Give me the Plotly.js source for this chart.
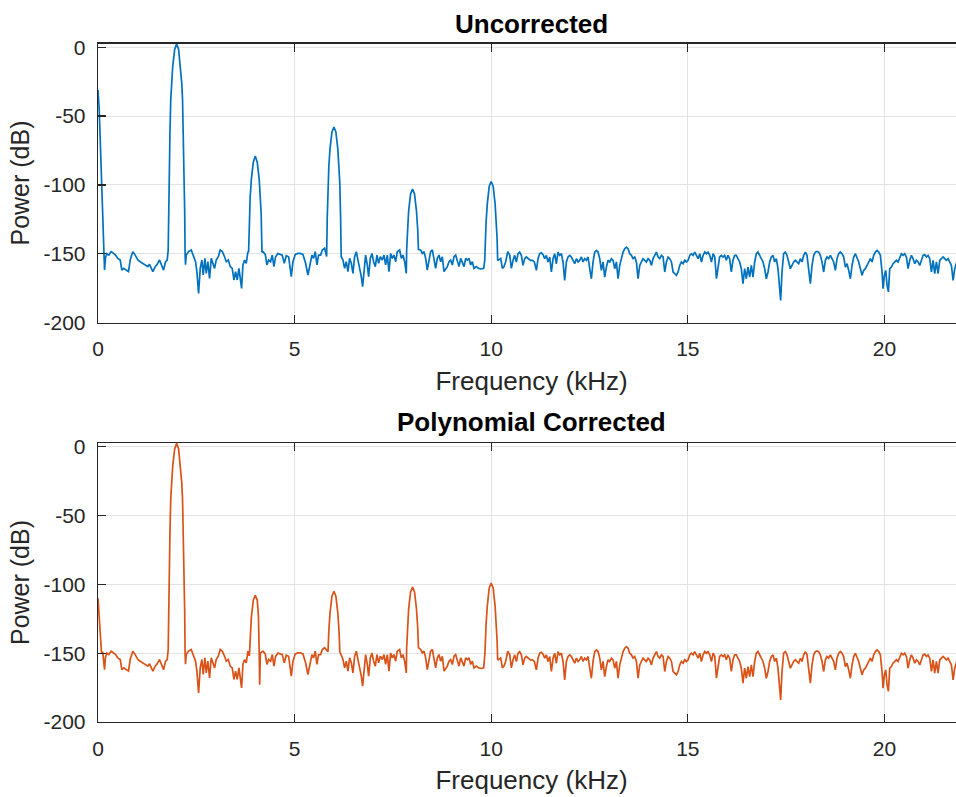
<!DOCTYPE html>
<html>
<head>
<meta charset="utf-8">
<script src="https://cdn.plot.ly/plotly-3.0.1.min.js"></script>
<style>
html,body{margin:0;padding:0;overflow:hidden;background:#fff;}
#chart{width:970px;height:797px;}
</style>
</head>
<body>
<div id="chart"></div>
<script>
// Shared noise floor (kHz, dB)
const noiseFreq = [0.166,0.19,0.225,0.276,0.335,0.395,0.446,0.505,0.565,0.607,0.658,0.717,0.776,0.819,0.886,0.946,1.014,1.073,1.141,1.2,1.268,1.31,1.395,1.455,1.506,1.565,1.625,1.667,1.718,1.76,
2.244,2.303,2.371,2.43,2.481,2.515,2.558,2.6,2.642,2.676,2.719,2.753,2.795,2.837,2.88,2.922,2.965,3.007,3.058,3.109,3.16,3.219,3.262,3.313,3.363,3.414,3.457,3.499,3.541,3.584,3.618,3.652,3.686,3.728,3.77,3.813,
4.195,4.254,4.296,4.339,4.39,4.432,4.474,4.517,4.576,4.636,4.686,4.737,4.788,4.848,4.882,4.916,4.958,5.017,5.085,5.145,5.212,5.28,5.339,5.381,5.441,5.483,5.526,5.568,5.61,5.661,5.704,5.763,
6.23,6.272,6.314,6.357,6.399,6.442,6.484,6.527,6.569,6.611,6.654,6.696,6.73,6.764,6.806,6.849,6.883,6.925,6.967,7.01,7.052,7.095,7.137,7.18,7.23,7.273,7.315,7.358,7.4,7.443,7.485,7.527,7.57,7.612,7.672,7.714,7.756,7.799,7.841,
8.206,8.248,8.291,8.333,8.375,8.418,8.46,8.503,8.545,8.587,8.63,8.672,8.715,8.757,8.8,8.842,8.884,8.927,8.969,9.011,9.054,9.096,9.139,9.181,9.224,9.266,9.308,9.351,9.393,9.436,9.478,9.521,9.563,9.622,9.682,9.75,9.809,
10.191,10.242,10.284,10.326,10.369,10.42,10.471,10.513,10.555,10.597,10.64,10.682,10.724,10.767,10.809,10.852,10.894,10.936,10.996,11.047,11.098,11.149,11.191,11.233,11.276,11.318,11.361,11.403,11.445,11.488,11.53,11.573,11.615,11.657,11.7,11.742,11.785,11.827,11.869,11.912,11.954,11.997,
12.039,12.082,12.124,12.166,12.209,12.251,12.294,12.336,12.378,12.421,12.463,12.506,12.548,12.59,12.633,12.675,12.718,12.76,12.802,12.845,12.887,12.93,12.972,13.014,13.057,13.099,13.142,13.184,13.227,13.269,13.311,13.354,13.396,13.439,13.481,13.523,13.566,13.608,13.651,13.693,13.735,13.778,13.82,13.863,13.905,13.947,13.99,
14.032,14.075,14.117,14.159,14.202,14.244,14.287,14.329,14.372,14.414,14.456,14.499,14.541,14.584,14.626,14.668,14.711,14.753,14.796,14.838,14.88,14.923,14.965,15.008,15.05,15.092,15.135,15.177,15.22,15.262,15.304,15.347,15.389,15.432,15.474,15.516,15.559,15.601,15.644,15.686,15.729,15.771,
15.81,15.852,15.895,15.937,15.98,16.022,16.064,16.107,16.149,16.192,16.234,16.276,16.319,16.361,16.404,16.446,16.489,16.531,16.573,16.616,16.658,16.701,16.743,16.785,16.828,16.87,16.913,16.955,16.997,17.04,17.082,17.125,17.167,17.209,17.252,17.294,17.337,17.362,17.396,17.438,17.481,17.523,17.566,17.608,17.65,17.693,17.735,17.778,17.82,17.863,17.905,17.947,17.99,
18.032,18.075,18.117,18.159,18.202,18.244,18.287,18.329,18.371,18.414,18.456,18.499,18.541,18.583,18.626,18.668,18.71,18.753,18.795,18.838,18.88,18.922,18.965,19.007,19.05,19.092,19.135,19.177,19.22,19.262,19.304,19.347,19.389,19.432,19.474,19.516,19.559,19.601,19.644,19.686,19.728,19.771,19.813,19.856,19.898,19.94,19.966,
20.0,20.034,20.068,20.102,20.136,20.178,20.22,20.263,20.305,20.348,20.39,20.433,20.475,20.517,20.56,20.602,20.645,20.687,20.729,20.772,20.814,20.857,20.899,20.941,20.984,21.026,21.069,21.111,21.153,21.196,21.238,21.28,21.323,21.365,21.408,21.45,21.493,21.535,21.577,21.62,21.662,21.705,21.747,21.789,21.85,21.95,22.05];

const noiseDb = [-161.9,-153,-150,-151,-148.5,-149.8,-151,-153.4,-154.6,-161.9,-160.7,-161.9,-163,-154.6,-148.5,-151,-154.6,-155.8,-157,-158.2,-159.4,-157.7,-163,-159.4,-157.7,-154.6,-159.4,-161.9,-155.8,-154.6,
-151,-148.5,-147.3,-152.2,-155.8,-163,-178.8,-160.7,-154.6,-165.5,-153.4,-164.3,-155.8,-168,-153.4,-157,-160.7,-154.6,-152.2,-147.3,-148.5,-152.2,-155.8,-154.6,-159.4,-160.7,-169.1,-163,-169.1,-160.7,-166.7,-175.2,-158.2,-154.6,-157,-148.5,
-148.5,-150.5,-158.2,-154.6,-155.8,-151,-159.4,-152.2,-149.8,-150.5,-151,-157,-151.5,-152.2,-158.2,-166.7,-155.8,-150.5,-149.8,-149.8,-150.5,-157,-165.5,-158.2,-151,-153.4,-148.5,-158.2,-151,-151,-147.3,-146,
-154.6,-160.7,-155.8,-163,-153.4,-157,-164.3,-152.2,-148.5,-154.6,-158.2,-166.7,-174,-163,-151,-158.2,-166.7,-153.4,-149.8,-155.8,-159.4,-151,-157,-152.2,-154.6,-151,-158.2,-151,-163,-149.8,-153.4,-151,-155.8,-148.5,-147.3,-153.4,-151,-155.8,-164.3,
-147.3,-149.8,-148.5,-153.4,-161.9,-154.6,-148.5,-147.3,-155.8,-160.7,-153.4,-151,-155.8,-152.2,-163,-160.7,-159.4,-155.8,-154.6,-158.2,-152.2,-151,-155.8,-159.4,-153.4,-155.8,-159.4,-153.4,-154.6,-153.4,-158.2,-155.8,-160.7,-159.4,-160.7,-161.1,-160.7,
-154.6,-153.4,-160.7,-159.4,-155.8,-148.5,-151,-160.7,-154.8,-151.2,-156,-150,-148.8,-151.2,-158.5,-153.6,-152.4,-153.6,-154.8,-154.8,-156,-162.1,-153.6,-150,-149.3,-150.7,-153.6,-151.2,-156,-152.4,-163.3,-153.6,-150,-157.3,-148.8,-151.2,-150,-156,-169.4,-156,-152.4,-151.2,
-152.4,-154.8,-157.3,-153.6,-156,-154.8,-152.4,-156,-153.6,-154.8,-152.4,-160.9,-168.2,-156,-148.8,-147.6,-148.8,-153.6,-162.1,-156,-167,-159.7,-154.8,-156,-153.6,-154.8,-160.9,-156,-168.2,-158.5,-153.6,-148.8,-146.4,-145.2,-146.4,-150,-151.2,-153.6,-152.4,-156,-168.2,-158.5,-156,-153.6,-154.8,-156,-153.6,
-154.8,-158.5,-153.6,-151.2,-148.8,-152.4,-153.6,-151.2,-152.4,-163.3,-156,-152.4,-153.6,-156,-163.3,-164.5,-165.7,-163.3,-158.5,-156,-157.3,-154.8,-156,-154.8,-151.2,-150,-151.2,-148.8,-151.2,-153.6,-150,-156,-151.2,-148.8,-150,-148.8,-151.2,-156,-150,-152.4,-168.2,-158.5,
-152.4,-151.2,-152.4,-151.2,-154.8,-151.2,-153.6,-163.3,-154.8,-151.2,-151.2,-153.6,-156,-160.9,-171.8,-160.9,-168.2,-159.7,-167,-158.5,-167,-156,-150,-148.8,-151.2,-153.6,-156,-160.9,-168.2,-163.3,-156,-152.4,-151.2,-156,-153.6,-160.9,-176.6,-184,-163.3,-150,-148.8,-151.2,-156,-160.9,-158.5,-156,-154.8,-156,-157.3,-153.6,-156,-151.2,-148.8,
-151.2,-160.9,-171.8,-158.5,-151.2,-148.8,-148.3,-148.8,-151.2,-156,-163.3,-154.8,-152.4,-153.6,-151.2,-153.6,-156,-162.1,-153.6,-150,-148.8,-150,-152.4,-159.7,-157.3,-162.1,-168.2,-158.5,-152.4,-150,-152.4,-156,-160.9,-165.7,-162.1,-160.9,-158.5,-156,-153.6,-156,-151.2,-148.8,-147.6,-148.8,-151.2,-163.3,-175.4,
-165.7,-162.1,-173,-177.8,-160.9,-159.7,-157.3,-156,-154.8,-156,-152.4,-150,-151.2,-150,-152.4,-160.9,-154.8,-151.2,-153.6,-157.3,-154.8,-156,-158.5,-154.8,-151.2,-150.7,-152.4,-151.2,-153.6,-163.3,-154.8,-164.5,-156,-164.5,-154.8,-153.6,-152.4,-153.6,-154.8,-153.6,-156,-158.5,-169.4,-160.9,-155,-153,-156];

// DC leakage and harmonic peaks, Uncorrected panel
const upperPeakFreq = [0,0.03,0.06,0.09,0.12,0.145,
1.785,1.795,1.81,1.83,1.85,1.87,1.9,1.95,2.0,2.05,2.1,2.13,2.15,2.17,2.19,2.205,2.215,2.225,
3.83,3.85,3.87,3.9,3.95,4.0,4.05,4.1,4.13,4.15,4.17,
5.815,5.83,5.85,5.87,5.9,5.95,6.0,6.05,6.1,6.13,6.15,6.17,6.185,
7.85,7.87,7.9,7.95,8.0,8.05,8.1,8.13,8.15,
9.835,9.85,9.87,9.9,9.95,10.0,10.05,10.1,10.13,10.15,10.165];
const upperPeakDb = [-31,-45,-70,-98,-125,-150,
-147.5,-120,-92,-62,-38,-26,-14,-1.5,2.5,-1.5,-14,-26,-38,-62,-92,-120,-150,-158,
-149,-121,-109,-96,-83.5,-79,-83.5,-96,-109,-121,-149,
-152,-124,-99,-87,-74,-61.5,-58,-61.5,-74,-87,-99,-124,-152,
-147,-132,-119,-106.5,-103,-106.5,-119,-132,-147,
-155,-139,-127,-114,-101,-97.5,-101,-114,-127,-139,-155];

// DC leakage and harmonic peaks, Polynomial Corrected panel
const lowerPeakFreq = [0,0.03,0.06,0.09,0.12,
1.785,1.795,1.81,1.83,1.85,1.87,1.9,1.95,2.0,2.05,2.1,2.13,2.15,2.17,2.19,2.205,2.215,2.225,
3.85,3.87,3.9,3.95,4.0,4.05,4.08,4.1,4.112,4.13,
5.85,5.87,5.9,5.95,6.0,6.05,6.1,6.13,6.15,
7.85,7.87,7.9,7.95,8.0,8.05,8.1,8.13,8.15,
9.84,9.85,9.87,9.9,9.95,10.0,10.05,10.1,10.13,10.15,10.165];
const lowerPeakDb = [-110,-121,-136,-150,-149,
-147.5,-120,-92,-62,-38,-26,-14,-1.5,2.5,-1.5,-14,-26,-38,-62,-92,-120,-150,-158,
-152,-137,-124,-111.5,-108,-111.5,-123,-150,-173,-150,
-149,-134,-121,-108.5,-105,-108.5,-121,-134,-149,
-146,-131,-118,-105.5,-102,-105.5,-118,-131,-146,
-150,-141,-129,-116,-102.5,-99,-102.5,-116,-129,-141,-155];

const xTickVals = [0,5,10,15,20];
const yTickVals = [0,-50,-100,-150,-200];
const panelTitles = ['Uncorrected','Polynomial Corrected'];
const xLabel = 'Frequency (kHz)';
const yLabel = 'Power (dB)';

function buildSeries(pf, pd){
  const pts = noiseFreq.map((f,i)=>[f,noiseDb[i]]).concat(pf.map((f,i)=>[f,pd[i]]));
  pts.sort((a,b)=>a[0]-b[0]);
  return {x: pts.map(p=>p[0]), y: pts.map(p=>p[1])};
}
const up = buildSeries(upperPeakFreq, upperPeakDb);
const lo = buildSeries(lowerPeakFreq, lowerPeakDb);

const traces = [
  {x: up.x, y: up.y, type:'scatter', mode:'lines', line:{color:'#0072BD', width:1.7}, xaxis:'x', yaxis:'y', hoverinfo:'skip'},
  {x: lo.x, y: lo.y, type:'scatter', mode:'lines', line:{color:'#D95319', width:1.7}, xaxis:'x2', yaxis:'y2', hoverinfo:'skip'}
];

const H = 797;
const axColor = '#262626';
function xAx(anchor){
  return {anchor: anchor, domain:[0,1], range:[0,22.05], tickvals:xTickVals, ticktext:xTickVals.map(String),
    showgrid:true, gridcolor:'#e3e3e3', gridwidth:1, zeroline:false,
    showline:true, linecolor:axColor, linewidth:1.3, mirror:'ticks',
    ticks:'inside', ticklen:8, tickwidth:1.3, tickcolor:axColor, ticklabelstandoff:7,
    tickfont:{size:21, color:axColor},
    title:{text:xLabel, font:{size:26, color:axColor}, standoff:12}};
}
function yAx(anchor, top, bottom){
  return {anchor: anchor, domain:[1-bottom/H, 1-top/H], range:[-200,2.76], tickvals:yTickVals, ticktext:yTickVals.map(String),
    showgrid:true, gridcolor:'#e3e3e3', gridwidth:1, zeroline:false,
    showline:true, linecolor:axColor, linewidth:1.3, mirror:'ticks',
    ticks:'inside', ticklen:8, tickwidth:1.3, tickcolor:axColor, ticklabelstandoff:7,
    tickfont:{size:21, color:axColor},
    title:{text:yLabel, font:{size:25, color:axColor}, standoff:6}};
}

const layout = {
  width:970, height:H, margin:{l:98, r:5, t:0, b:0},
  paper_bgcolor:'#ffffff', plot_bgcolor:'#ffffff', showlegend:false,
  font:{family:'"Liberation Sans", Arial, Helvetica, sans-serif', color:axColor},
  xaxis: xAx('y'), yaxis: yAx('x', 43.5, 322.5),
  xaxis2: xAx('y2'), yaxis2: yAx('x2', 443, 722),
  annotations:[
    {text:'<b>'+panelTitles[0]+'</b>', xref:'paper', yref:'paper', x:0.5, y:1-24/H, xanchor:'center', yanchor:'middle', showarrow:false, font:{size:26, color:'#000'}},
    {text:'<b>'+panelTitles[1]+'</b>', xref:'paper', yref:'paper', x:0.5, y:1-422/H, xanchor:'center', yanchor:'middle', showarrow:false, font:{size:26, color:'#000'}}
  ]
};

Plotly.newPlot('chart', traces, layout, {staticPlot:true, displayModeBar:false});
</script>
</body>
</html>
